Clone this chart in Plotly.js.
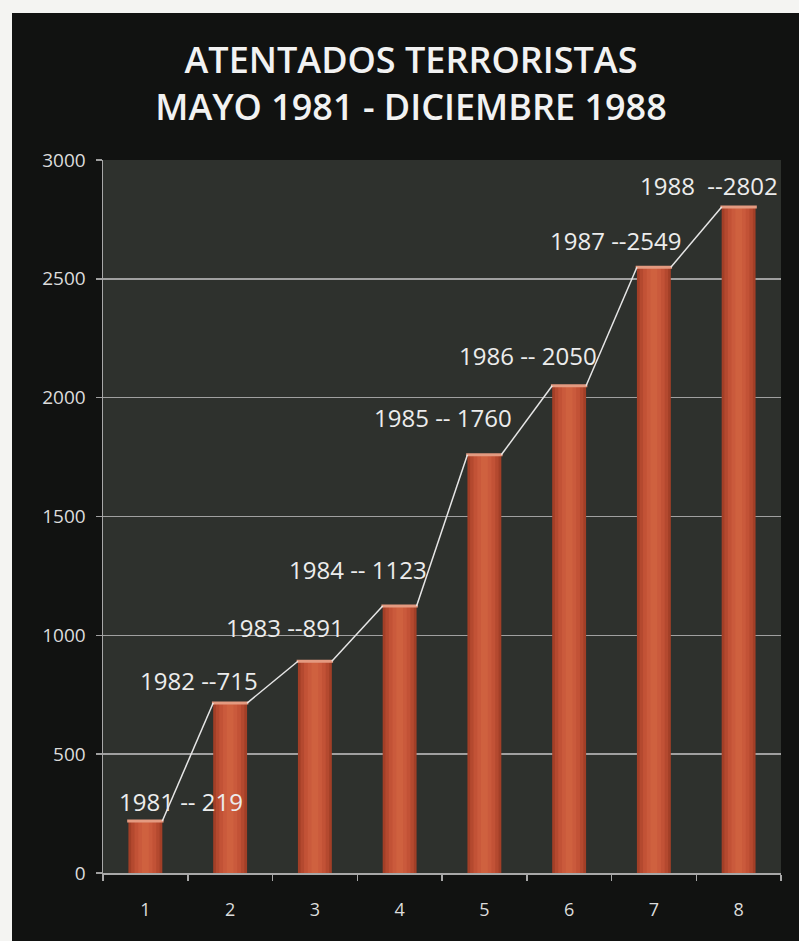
<!DOCTYPE html>
<html>
<head>
<meta charset="utf-8">
<script src="https://cdn.plot.ly/plotly-3.0.1.min.js"></script>
<style>
  html, body { margin: 0; padding: 0; background: #f4f4f2; width: 799px; height: 941px; overflow: hidden; }
  #chart { position: absolute; left: 12px; top: 13px; width: 787px; height: 928px; }
</style>
</head>
<body>
<div id="chart"></div>
<script>
// ---- data ----
const categories = [1, 2, 3, 4, 5, 6, 7, 8];
const years = [1981, 1982, 1983, 1984, 1985, 1986, 1987, 1988];
const attacks = [219, 715, 891, 1123, 1760, 2050, 2549, 2802];
const labels = ["1981 -- 219", "1982 --715", "1983 --891", "1984 -- 1123",
                "1985 -- 1760", "1986 -- 2050", "1987 --2549", "1988  --2802"];
const yTicks = [0, 500, 1000, 1500, 2000, 2500, 3000];

// ---- styling ----
const barWidth = 0.4;
const labelShift = [[36, 19], [-31, 23], [-30, 34], [-42, 37], [-41, 37], [-41, 30], [-38, 27], [-30, 22]];
const layers = [
  { w: 1.00, c: '#a23f27' },
  { w: 0.84, c: '#b4492f' },
  { w: 0.64, c: '#c25236' },
  { w: 0.42, c: '#ca5a3c' },
  { w: 0.20, c: '#cf613f' }
];

const traces = [];

// connecting line: from top-right of each bar to top-left of the next one
const lx = [], ly = [];
for (let i = 0; i < categories.length - 1; i++) {
  lx.push(categories[i] + barWidth / 2, categories[i + 1] - barWidth / 2, null);
  ly.push(attacks[i], attacks[i + 1], null);
}

layers.forEach(l => {
  traces.push({
    type: 'bar', x: categories, y: attacks,
    width: barWidth * l.w,
    marker: { color: l.c, line: { width: 0 } },
    hoverinfo: 'skip', showlegend: false
  });
});

// light cap on top of each bar
traces.push({
  type: 'scatter', mode: 'markers', x: categories, y: attacks,
  marker: { symbol: 'line-ew', size: 26, line: { color: '#e49a80', width: 3 } },
  hoverinfo: 'skip', showlegend: false
});

traces.push({
  type: 'scatter', mode: 'lines', x: lx, y: ly,
  line: { color: '#e6e6e6', width: 1.5 },
  connectgaps: false, hoverinfo: 'skip', showlegend: false
});

const annotations = categories.map((c, i) => ({
  x: c, y: attacks[i], xref: 'x', yref: 'y',
  text: labels[i], showarrow: false,
  xshift: labelShift[i][0], yshift: labelShift[i][1],
  xanchor: 'center', yanchor: 'middle',
  font: { family: 'Open Sans, Lato, sans-serif', size: 24, color: '#ececec' }
}));

const layout = {
  width: 787, height: 928,
  paper_bgcolor: '#111211',
  plot_bgcolor: '#2e312d',
  margin: { l: 91, r: 18, t: 147, b: 68, pad: 0 },
  barmode: 'overlay',
  title: {
    text: 'ATENTADOS TERRORISTAS<br>MAYO 1981 - DICIEMBRE 1988',
    x: 0.507, xref: 'container', xanchor: 'center',
    y: 0.935, yref: 'container', yanchor: 'middle',
    font: { family: 'Open Sans, Lato, sans-serif', size: 36, color: '#f2f2f2', weight: 600 }
  },
  xaxis: {
    type: 'linear',
    range: [0.5, 8.5],
    tickvals: categories,
    ticktext: categories.map(String),
    ticks: '',
    showgrid: false,
    zeroline: false,
    showline: true, linecolor: '#a8a8a8', linewidth: 1.5,
    tickfont: { family: 'Open Sans, Lato, sans-serif', size: 18, color: '#dcdcdc' },
    ticklabelstandoff: 20,
    minor: { tick0: 0.5, dtick: 1, ticks: 'outside', ticklen: 6, tickcolor: '#a8a8a8', tickwidth: 1.5, showgrid: false },
    fixedrange: true
  },
  yaxis: {
    range: [0, 3000],
    tickvals: yTicks,
    ticks: 'outside', ticklen: 6, tickcolor: '#a0a0a0', tickwidth: 1.5,
    showgrid: true, gridcolor: '#a0a0a0', gridwidth: 1.5,
    zeroline: false,
    showline: true, linecolor: '#a8a8a8', linewidth: 1.5,
    tickfont: { family: 'Open Sans, Lato, sans-serif', size: 19, color: '#dcdcdc' },
    ticklabelstandoff: 6,
    fixedrange: true
  },
  annotations: annotations,
  showlegend: false
};

Plotly.newPlot('chart', traces, layout, { displayModeBar: false, staticPlot: true });
</script>
</body>
</html>
